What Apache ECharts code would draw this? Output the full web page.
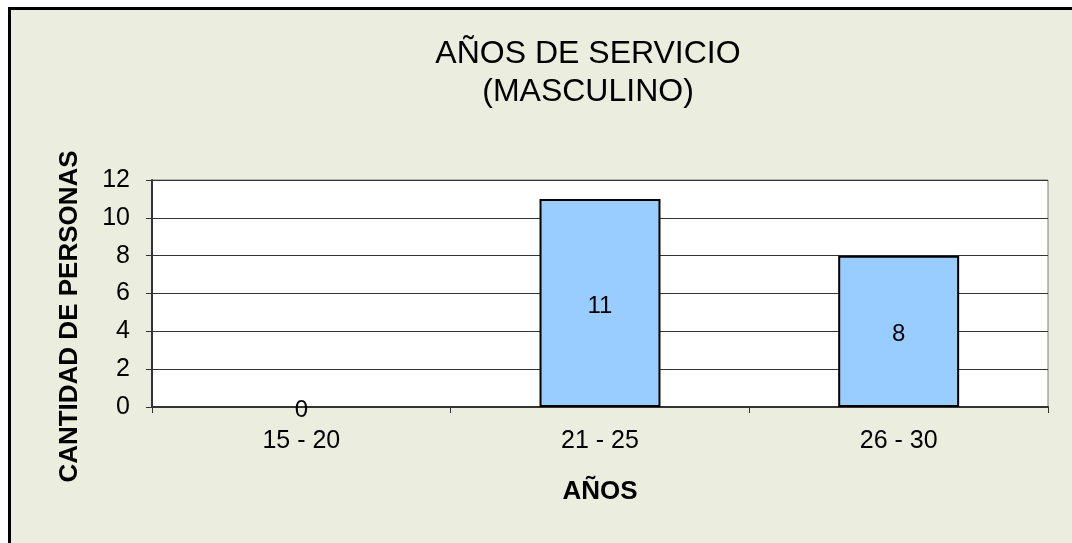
<!DOCTYPE html>
<html>
<head>
<meta charset="utf-8">
<script src="https://cdn.jsdelivr.net/npm/echarts@6/dist/echarts.min.js"></script>
<style>
  body { margin: 0; background: #fff; }
  #frame {
    position: absolute; left: 8px; top: 7px;
    width: 1100px; height: 600px;
    border: 3px solid #000; background: #EBEDDF;
  }
  #main { width: 1061px; height: 533px; }
</style>
</head>
<body>
<div id="frame"><div id="main"></div></div>
<script>
// datos
var categorias = ["15 - 20", "21 - 25", "26 - 30"];
var cantidades = [0, 11, 8];

var myChart = echarts.init(document.getElementById("main"));
var fuente = "Liberation Sans, Arial, sans-serif";

// barras en cero sin borde
var datosBarras = cantidades.map(function (v) {
  return v === 0 ? { value: v, itemStyle: { borderWidth: 0 } } : v;
});

var option = {
  backgroundColor: "transparent",
  title: {
    text: "AÑOS DE SERVICIO\n(MASCULINO)",
    left: 572,
    top: 20,
    textAlign: "center",
    textStyle: {
      fontFamily: fuente,
      fontSize: 32,
      fontWeight: "normal",
      color: "#000",
      lineHeight: 38
    }
  },
  grid: {
    left: 141,
    top: 170,
    right: 24,
    bottom: 136,
    show: true,
    backgroundColor: "#fff",
    borderColor: "#808080",
    borderWidth: 1
  },
  xAxis: {
    type: "category",
    data: categorias,
    name: "AÑOS",
    nameLocation: "middle",
    nameGap: 72,
    nameTextStyle: { fontFamily: fuente, fontSize: 26, fontWeight: "bold", color: "#000" },
    axisLine: { lineStyle: { color: "#333", width: 2 } },
    axisTick: { show: true, length: 6, lineStyle: { color: "#333" } },
    axisLabel: { fontFamily: fuente, fontSize: 25, color: "#000", margin: 22 }
  },
  yAxis: {
    type: "value",
    min: 0,
    max: 12,
    interval: 2,
    name: "CANTIDAD DE PERSONAS",
    nameLocation: "middle",
    nameGap: 69,
    nameRotate: 90,
    nameTextStyle: {
      fontFamily: fuente, fontSize: 26, fontWeight: "bold", color: "#000",
      padding: [0, 46, 0, 0]
    },
    axisLine: { show: true, lineStyle: { color: "#333", width: 2 } },
    axisTick: { show: true, length: 6, lineStyle: { color: "#333" } },
    axisLabel: { fontFamily: fuente, fontSize: 25, color: "#000", margin: 22 },
    splitLine: { lineStyle: { color: "#333", width: 1 } }
  },
  series: [
    {
      type: "bar",
      data: datosBarras,
      barWidth: "40.5%",
      itemStyle: { color: "#99CCFF", borderColor: "#000", borderWidth: 2 },
      label: {
        show: true,
        position: "inside",
        offset: [0, 3],
        fontFamily: fuente,
        fontSize: 24,
        color: "#000"
      }
    }
  ]
};

myChart.setOption(option);
</script>
</body>
</html>
